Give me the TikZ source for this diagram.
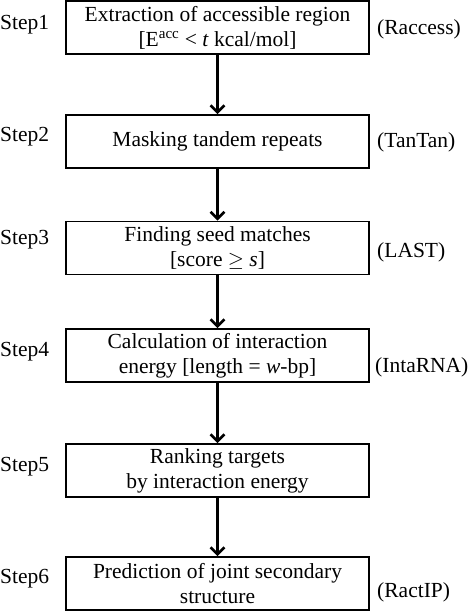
\documentclass[tikz,border=0pt]{standalone}
\usepackage{fontspec}
\setmainfont{Liberation Serif}
\usetikzlibrary{arrows.meta}
\begin{document}
\begin{tikzpicture}[x=1pt,y=-1pt,
  stepbox/.style={draw=black, line width=1.8pt, minimum width=303pt, minimum height=53pt,
    align=center, inner sep=0pt, font=\fontsize{21.5}{25}\selectfont},
  lab/.style={inner sep=0pt, font=\fontsize{21.5}{25}\selectfont},
  flow/.style={line width=2.8pt, -{Straight Barb[length=7pt,width=14pt,line width=2.6pt]}}]
\useasboundingbox (0,0) rectangle (473,612);
\node[stepbox] (b1) at (217.5,27.5) {Extraction of accessible region\\{}[E\textsuperscript{acc} {<} \textit{t} kcal/mol]};
\node[stepbox] (b2) at (217.5,141.5) {Masking tandem repeats};
\node[stepbox] (b3) at (217.5,248) {Finding seed matches\\{}[score \(\geq\) \textit{s}]};
\node[stepbox] (b4) at (217.5,355.5) {Calculation of interaction\\energy [length = \textit{w}-bp]};
\node[stepbox] (b5) at (217.5,470.5) {Ranking targets\\by interaction energy};
\node[stepbox] (b6) at (217.5,583.5) {Prediction of joint secondary\\structure};
\node[lab, anchor=west] (s1) at (0,25) {Step1};
\node[lab, anchor=west] (s2) at (0,137) {Step2};
\node[lab, anchor=west] (s3) at (0,240) {Step3};
\node[lab, anchor=west] (s4) at (0,352) {Step4};
\node[lab, anchor=west] (s5) at (0,467) {Step5};
\node[lab, anchor=west] (s6) at (0,579) {Step6};
\node[lab, anchor=west] (t1) at (377,29) {(Raccess)};
\node[lab, anchor=west] (t2) at (377,142) {(TanTan)};
\node[lab, anchor=west] (t3) at (377,252) {(LAST)};
\node[lab, anchor=west] (t4) at (375,367) {(IntaRNA)};
\node[lab, anchor=west] (t6) at (377,592) {(RactIP)};
\draw[flow] (b1.south) -- (b2.north);
\draw[flow] (b2.south) -- (b3.north);
\draw[flow] (b3.south) -- (b4.north);
\draw[flow] (b4.south) -- (b5.north);
\draw[flow] (b5.south) -- (b6.north);
\end{tikzpicture}
\end{document}
